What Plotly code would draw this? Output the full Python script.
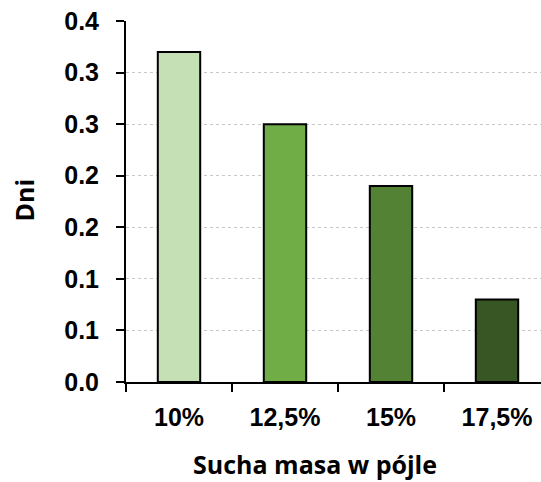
import plotly.graph_objects as go

# Dry matter share in the feed and the corresponding number of days
categories = ["10%", "12,5%", "15%", "17,5%"]
values = [0.32, 0.25, 0.19, 0.08]
bar_colors = ["#C5E0B4", "#70AD47", "#548235", "#375623"]

# Axis ticks every 0.05, labels rounded to one decimal
y_tickvals = [0.0, 0.05, 0.10, 0.15, 0.20, 0.25, 0.30, 0.35]
y_ticktext = ["0.0", "0.1", "0.1", "0.2", "0.2", "0.3", "0.3", "0.4"]

x_title = "Sucha masa w pójle"
y_title = "Dni"

fig = go.Figure(
    go.Bar(
        x=categories,
        y=values,
        width=0.4,
        marker=dict(color=bar_colors, line=dict(color="#000000", width=2)),
        hoverinfo="skip",
    )
)

label_font = dict(family="Liberation Sans, Arial, sans-serif", size=25,
                  color="#000000", weight="bold")
title_font = dict(family="Open Sans, Liberation Sans, sans-serif", size=25,
                  color="#000000", weight="bold")

fig.update_layout(
    width=541,
    height=482,
    margin=dict(l=126, r=0, t=21, b=100),
    paper_bgcolor="#FFFFFF",
    plot_bgcolor="#FFFFFF",
    showlegend=False,
    annotations=[
        dict(text=x_title, font=title_font, xref="paper", yref="paper",
             x=0.455, y=-0.228, xanchor="center", yanchor="middle",
             borderpad=0, showarrow=False),
        dict(text=y_title, font=title_font, xref="paper", yref="paper",
             x=-0.245, y=0.504, xanchor="center", yanchor="middle",
             borderpad=0, textangle=-90, showarrow=False),
    ],
)

fig.update_xaxes(
    type="category",
    range=[-0.5, 3.415],
    showline=True,
    linecolor="#000000",
    linewidth=2,
    ticks="outside",
    tickson="boundaries",
    ticklen=8,
    tickwidth=2,
    tickcolor="#000000",
    ticklabelstandoff=12,
    tickfont=label_font,
    showgrid=False,
)

fig.update_yaxes(
    range=[0, 0.35],
    tickvals=y_tickvals,
    ticktext=y_ticktext,
    showline=True,
    linecolor="#000000",
    linewidth=2,
    ticks="outside",
    ticklen=8,
    tickwidth=2,
    tickcolor="#000000",
    ticklabelstandoff=12,
    tickfont=label_font,
    showgrid=True,
    gridcolor="#C8C8C8",
    gridwidth=1,
    griddash="dot",
    zeroline=False,
)

fig.write_html("out.html")
